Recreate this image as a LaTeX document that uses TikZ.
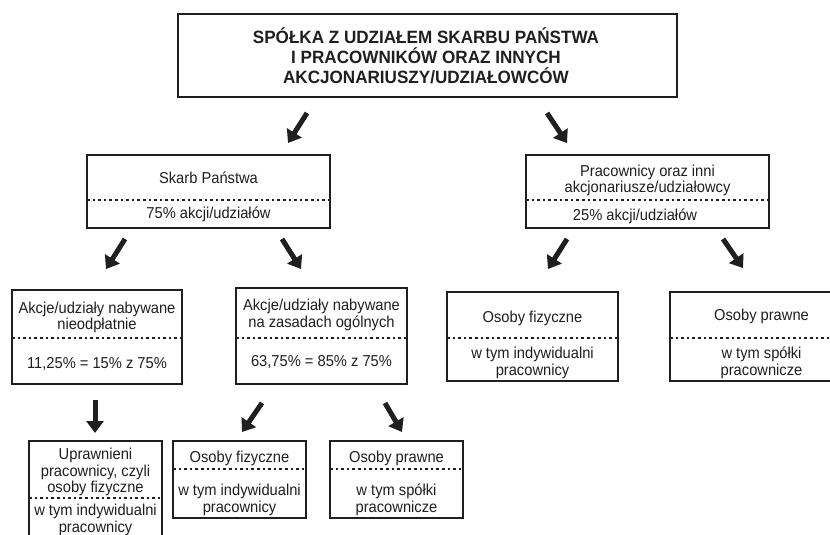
\documentclass[tikz,border=0pt]{standalone}
\usepackage{fontspec}
\setmainfont{Liberation Sans}
\newfontfamily\boxfont[FakeStretch=0.93]{Liberation Sans}
\newfontfamily\titlefont[FakeStretch=0.96]{Liberation Sans}
\usetikzlibrary{arrows.meta}
\definecolor{ink}{gray}{0.12}
\begin{document}
\begin{tikzpicture}[x=1pt,y=-1pt,
  box/.style={draw=ink, line width=1.4pt, inner sep=0pt, outer sep=0pt},
  dots/.style={draw=ink, line width=1.2pt, dash pattern=on 2.6pt off 3pt},
  lbl/.style={anchor=base, inner sep=0pt, text=ink, font=\boxfont\fontsize{15.8}{17}\selectfont},
  ttl/.style={anchor=base, inner sep=0pt, text=ink, font=\titlefont\fontsize{17.8}{19.5}\selectfont\bfseries},
  bigarrow/.style={draw=ink, line width=5pt, -{Triangle[width=17pt,length=12pt]}}]
\useasboundingbox (0,0) rectangle (830,535);
\fill[white] (0,0) rectangle (830,535);

% boxes
\node[box, minimum width=499pt, minimum height=83pt] (top) at (427.5,55.5) {};
\node[box, minimum width=243pt, minimum height=73pt] (skarb) at (208.5,191.5) {};
\node[box, minimum width=243pt, minimum height=73pt] (prac) at (647.5,191.5) {};
\node[box, minimum width=170pt, minimum height=94pt] (A) at (97,337) {};
\node[box, minimum width=171pt, minimum height=96pt] (B) at (321.5,336) {};
\node[box, minimum width=171pt, minimum height=89pt] (C) at (532.5,336.5) {};
\node[box, minimum width=171pt, minimum height=89pt] (D) at (755.5,336.5) {};
\node[box, minimum width=133pt, minimum height=119pt] (E) at (95.5,500.5) {};
\node[box, minimum width=133pt, minimum height=77pt] (F) at (239.5,479.5) {};
\node[box, minimum width=133pt, minimum height=77pt] (G) at (396.5,479.5) {};

% dotted separators
\draw[dots] (skarb.west |- 0,200) -- (skarb.east |- 0,200);
\draw[dots] (prac.west |- 0,200) -- (prac.east |- 0,200);
\draw[dots] (A.west |- 0,338) -- (A.east |- 0,338);
\draw[dots] (B.west |- 0,338) -- (B.east |- 0,338);
\draw[dots] (C.west |- 0,338) -- (C.east |- 0,338);
\draw[dots] (D.west |- 0,338) -- (D.east |- 0,338);
\draw[dots] (E.west |- 0,498) -- (E.east |- 0,498);
\draw[dots] (F.west |- 0,469) -- (F.east |- 0,469);
\draw[dots] (G.west |- 0,469) -- (G.east |- 0,469);

% texts
\node[ttl] (t1) at (426,44) {SPÓŁKA Z UDZIAŁEM SKARBU PAŃSTWA};
\node[ttl] (t2) at (426,63.5) {I PRACOWNIKÓW ORAZ INNYCH};
\node[ttl] (t3) at (426,83) {AKCJONARIUSZY/UDZIAŁOWCÓW};

\node[lbl] (s1) at (208.5,183) {Skarb Państwa};
\node[lbl] (s2) at (208.5,218) {75\% akcji/udziałów};

\node[lbl] (p1) at (647.5,176) {Pracownicy oraz inni};
\node[lbl] (p2) at (647.5,192) {akcjonariusze/udziałowcy};
\node[lbl] (p3) at (635,220) {25\% akcji/udziałów};

\node[lbl] (a1) at (97,313) {Akcje/udziały nabywane};
\node[lbl] (a2) at (97,329) {nieodpłatnie};
\node[lbl] (a3) at (97,368) {11,25\% = 15\% z 75\%};

\node[lbl] (b1) at (321.5,310) {Akcje/udziały nabywane};
\node[lbl] (b2) at (321.5,327) {na zasadach ogólnych};
\node[lbl] (b3) at (321.5,366) {63,75\% = 85\% z 75\%};

\node[lbl] (c1) at (532.5,322) {Osoby fizyczne};
\node[lbl] (c2) at (532.5,358) {w tym indywidualni};
\node[lbl] (c3) at (532.5,375) {pracownicy};

\node[lbl] (d1) at (761.5,320) {Osoby prawne};
\node[lbl] (d2) at (761.5,358) {w tym spółki};
\node[lbl] (d3) at (761.5,375) {pracownicze};

\node[lbl] (e1) at (95.5,459) {Uprawnieni};
\node[lbl] (e2) at (95.5,476) {pracownicy, czyli};
\node[lbl] (e3) at (95.5,492) {osoby fizyczne};
\node[lbl] (e4) at (95.5,515) {w tym indywidualni};
\node[lbl] (e5) at (95.5,532) {pracownicy};

\node[lbl] (f1) at (239.5,462) {Osoby fizyczne};
\node[lbl] (f2) at (239.5,495) {w tym indywidualni};
\node[lbl] (f3) at (239.5,512) {pracownicy};

\node[lbl] (g1) at (396.5,462) {Osoby prawne};
\node[lbl] (g2) at (396.5,495) {w tym spółki};
\node[lbl] (g3) at (396.5,512) {pracownicze};

% arrows
\coordinate (r1s) at (307,113); \coordinate (r1e) at (288,143);
\coordinate (r2s) at (547,113); \coordinate (r2e) at (567,143);
\coordinate (r3s) at (125,239); \coordinate (r3e) at (106,269);
\coordinate (r4s) at (282,239); \coordinate (r4e) at (301,269);
\coordinate (r5s) at (567,239); \coordinate (r5e) at (548,269);
\coordinate (r6s) at (723,239); \coordinate (r6e) at (743,268);
\coordinate (r7s) at (95,400);  \coordinate (r7e) at (95,433);
\coordinate (r8s) at (262,403); \coordinate (r8e) at (242,432);
\coordinate (r9s) at (385,403); \coordinate (r9e) at (402,432);
\draw[bigarrow] (r1s) -- (r1e);
\draw[bigarrow] (r2s) -- (r2e);
\draw[bigarrow] (r3s) -- (r3e);
\draw[bigarrow] (r4s) -- (r4e);
\draw[bigarrow] (r5s) -- (r5e);
\draw[bigarrow] (r6s) -- (r6e);
\draw[bigarrow] (r7s) -- (r7e);
\draw[bigarrow] (r8s) -- (r8e);
\draw[bigarrow] (r9s) -- (r9e);
\end{tikzpicture}
\end{document}
